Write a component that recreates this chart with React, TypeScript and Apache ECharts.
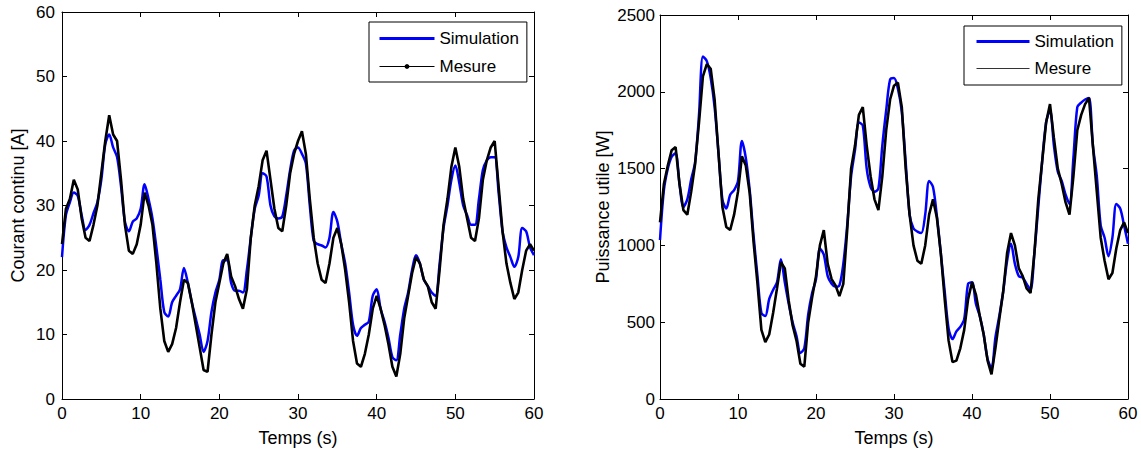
import React, { useEffect, useRef } from "react";
import * as echarts from "echarts";

const FONT = "'Liberation Sans', Arial, Helvetica, sans-serif";

// Time stamps (s)
const TIME = [
  0, 0.5, 1, 1.5, 2, 2.5, 3, 3.5, 4, 4.5, 5, 5.5, 6, 6.5, 7, 7.5, 8, 8.5, 9, 9.5,
  10, 10.5, 11, 11.5, 12, 12.5, 13, 13.5, 14, 14.5, 15, 15.5, 16, 16.5, 17, 17.5, 18, 18.5, 19, 19.5,
  20, 20.5, 21, 21.5, 22, 22.5, 23, 23.5, 24, 24.5, 25, 25.5, 26, 26.5, 27, 27.5, 28, 28.5, 29, 29.5,
  30, 30.5, 31, 31.5, 32, 32.5, 33, 33.5, 34, 34.5, 35, 35.5, 36, 36.5, 37, 37.5, 38, 38.5, 39, 39.5,
  40, 40.5, 41, 41.5, 42, 42.5, 43, 43.5, 44, 44.5, 45, 45.5, 46, 46.5, 47, 47.5, 48, 48.5, 49, 49.5,
  50, 50.5, 51, 51.5, 52, 52.5, 53, 53.5, 54, 54.5, 55, 55.5, 56, 56.5, 57, 57.5, 58, 58.5, 59, 59.5,
  60,
];

// Courant continu [A] — simulation
const SIM_CURRENT = [
  22, 28.5, 30.5, 32, 31.5, 28.5, 26.2, 27, 28.8, 30.5,
  34, 39.5, 41, 39, 37.5, 33, 27.5, 26, 27.5, 28,
  29.5, 33.3, 31, 28, 23.5, 18.5, 13.5, 12.8, 15, 16,
  17, 20.3, 18, 15, 12.5, 10, 7.3, 9, 13.5, 16.5,
  18.5, 21.5, 21.5, 18, 16.8, 16.8, 16.5, 20, 25, 29.5,
  31.5, 35, 34.5, 30, 28.3, 28, 28.3, 31.5, 35.5, 38.5,
  39, 38, 36.5, 30, 24.5, 24, 23.8, 23.5, 25, 29,
  27.5, 24, 21, 16.5, 11.5, 9.8, 11, 11.5, 12, 16,
  17, 14, 12, 9.5, 6.5, 6, 10, 14, 16.5, 20,
  22.3, 21, 18.5, 17.5, 16.5, 16, 21, 26.5, 30, 34,
  36.2, 33.5, 30, 28.5, 27, 27, 31, 35.5, 37, 37.5,
  37.5, 32, 26, 23.5, 22, 20.5, 22, 26.5, 26, 23.5,
  22.3,
];

// Courant continu [A] — mesure
const MES_CURRENT = [
  24, 29.5, 31, 34, 32.5, 28, 25, 24.5, 27, 30,
  35, 40, 44, 41, 40, 34, 27, 23, 22.5, 24,
  27, 32, 30, 27, 21, 14, 9, 7.3, 8.5, 11,
  15, 18.5, 18, 15, 11.5, 8, 4.5, 4.2, 10, 15,
  18, 21, 22.5, 19, 17.5, 15.5, 14, 17, 25, 30,
  33, 37, 38.5, 34, 29.5, 26.5, 26, 30, 35, 38,
  40, 41.5, 38, 31, 25, 21, 18.5, 18, 21, 25,
  26.5, 24, 20, 15, 9, 5.5, 5, 7, 10, 14,
  16, 14, 11.5, 8.5, 5, 3.5, 7, 12.5, 16, 19.5,
  22, 21, 18.5, 17.5, 15, 14, 20, 27, 31, 36,
  39, 36, 31, 28, 25, 24.5, 28, 34, 37, 39,
  40, 33, 26, 21, 18, 15.5, 16.5, 20, 23, 24,
  23,
];

// Puissance utile [W] — simulation
const SIM_POWER = [
  1035, 1360, 1500, 1578, 1600, 1400, 1250, 1300, 1430, 1540,
  1850, 2230, 2200, 2090, 1900, 1600, 1300, 1240, 1330, 1360,
  1420, 1680, 1570, 1360, 1060, 800, 560, 540, 650, 710,
  760, 910, 760, 620, 500, 410, 300, 330, 550, 690,
  780, 980, 940, 800, 750, 730, 740, 880, 1130, 1450,
  1620, 1800, 1780, 1500, 1380, 1350, 1370, 1650, 1880, 2080,
  2090, 2020, 1870, 1540, 1200, 1110, 1090, 1080, 1200, 1420,
  1380, 1190, 950, 700, 460, 390, 440, 470, 520, 750,
  760, 620, 540, 420, 260, 200, 400, 540, 700, 900,
  1010, 880, 800, 790, 750, 710, 950, 1250, 1550, 1800,
  1880, 1650, 1480, 1420, 1330, 1270, 1570, 1900, 1930, 1950,
  1960, 1650, 1450, 1130, 1050, 930, 1050, 1270, 1240, 1130,
  1010,
];

// Puissance utile [W] — mesure
const MES_POWER = [
  1150, 1400, 1520, 1620, 1640, 1400, 1230, 1200, 1350, 1530,
  1800, 2100, 2180, 2150, 1950, 1600, 1250, 1120, 1100, 1200,
  1350, 1580, 1520, 1340, 1020, 750, 450, 370, 420, 560,
  720, 890, 850, 640, 480, 380, 230, 210, 500, 660,
  800, 1000, 1100, 880, 780, 740, 670, 750, 1100, 1500,
  1650, 1850, 1900, 1650, 1450, 1300, 1230, 1450, 1750, 1950,
  2040, 2060, 1900, 1500, 1200, 1000, 900, 880, 1000, 1200,
  1300, 1180, 950, 650, 380, 240, 250, 330, 450, 650,
  760, 680, 540, 420, 250, 160, 330, 520, 700, 950,
  1080, 1000, 850, 800, 720, 690, 950, 1300, 1550, 1800,
  1920, 1700, 1500, 1400, 1280, 1200, 1450, 1750, 1850, 1920,
  1960, 1650, 1350, 1050, 900, 780, 820, 980, 1100, 1150,
  1080,
];

const X_MIN = 0;
const X_MAX = 60;
const X_STEP = 10;
const I_MAX = 60;
const I_STEP = 10;
const P_MAX = 2500;
const P_STEP = 500;

const SIM_NAME = "Simulation";
const MES_NAME = "Mesure";
const SIM_NAME_P = "Simulation_P";
const MES_NAME_P = "Mesure_P";

const pair = (vals: number[]) => vals.map((v, i) => [TIME[i], v]);

const BLUE = "#0000ff";
const BLACK = "#000000";

const plainLabel = (margin: number) => ({
  color: BLACK,
  fontSize: 17,
  fontFamily: FONT,
  margin,
  formatter: (v: number) => String(v),
});

function mainAxis(extra: any) {
  return {
    type: "value",
    axisLine: { show: true, onZero: false, lineStyle: { color: BLACK, width: 1 } },
    axisTick: { show: true, inside: true, length: 5, lineStyle: { color: BLACK } },
    splitLine: { show: false },
    nameTextStyle: { color: BLACK, fontSize: 18, fontFamily: FONT },
    ...extra,
  };
}

function mirrorAxis(extra: any) {
  return {
    type: "value",
    axisLine: { show: true, onZero: false, lineStyle: { color: BLACK, width: 1 } },
    axisTick: { show: true, inside: true, length: 5, lineStyle: { color: BLACK } },
    axisLabel: { show: false },
    splitLine: { show: false },
    ...extra,
  };
}

export default function App() {
  const ref = useRef<HTMLDivElement>(null);

  useEffect(() => {
    if (!ref.current) return;
    const chart = echarts.init(ref.current, null, { renderer: "svg" });

    const legendCommon = {
      orient: "vertical",
      borderColor: BLACK,
      borderWidth: 1,
      backgroundColor: "#ffffff",
      itemHeight: 6,
      selectedMode: false,
      textStyle: { color: BLACK, fontSize: 17, fontFamily: FONT, lineHeight: 17 },
    };

    const option: any = {
      animation: false,
      backgroundColor: "#ffffff",
      grid: [
        { left: 62, top: 12, width: 472, height: 387, containLabel: false },
        { left: 660, top: 15, width: 468, height: 384, containLabel: false },
      ],
      xAxis: [
        mainAxis({
          gridIndex: 0, position: "bottom", min: X_MIN, max: X_MAX, interval: X_STEP,
          name: "Temps (s)", nameLocation: "middle", nameGap: 30,
          axisLabel: plainLabel(6),
        }),
        mirrorAxis({ gridIndex: 0, position: "top", min: X_MIN, max: X_MAX, interval: X_STEP }),
        mainAxis({
          gridIndex: 1, position: "bottom", min: X_MIN, max: X_MAX, interval: X_STEP,
          name: "Temps (s)", nameLocation: "middle", nameGap: 30,
          axisLabel: plainLabel(6),
        }),
        mirrorAxis({ gridIndex: 1, position: "top", min: X_MIN, max: X_MAX, interval: X_STEP }),
      ],
      yAxis: [
        mainAxis({
          gridIndex: 0, position: "left", min: 0, max: I_MAX, interval: I_STEP,
          name: "Courant continu [A]", nameLocation: "middle", nameGap: 35, nameRotate: 90,
          axisLabel: plainLabel(7),
        }),
        mirrorAxis({ gridIndex: 0, position: "right", min: 0, max: I_MAX, interval: I_STEP }),
        mainAxis({
          gridIndex: 1, position: "left", min: 0, max: P_MAX, interval: P_STEP,
          name: "Puissance utile [W]", nameLocation: "middle", nameGap: 48, nameRotate: 90,
          axisLabel: plainLabel(5),
        }),
        mirrorAxis({ gridIndex: 1, position: "right", min: 0, max: P_MAX, interval: P_STEP }),
      ],
      legend: [
        {
          ...legendCommon,
          left: 369,
          top: 22,
          itemWidth: 55,
          padding: [8, 8, 7, 9],
          itemGap: 11,
          data: [
            { name: SIM_NAME, lineStyle: { width: 3, color: BLUE }, itemStyle: { opacity: 0 } },
            { name: MES_NAME, lineStyle: { width: 1, color: BLACK }, itemStyle: { color: BLACK } },
          ],
        },
        {
          ...legendCommon,
          left: 964,
          top: 26,
          itemWidth: 53,
          padding: [7, 8, 8, 11],
          itemGap: 10,
          formatter: (n: string) => n.replace("_P", ""),
          data: [
            { name: SIM_NAME_P, lineStyle: { width: 3, color: BLUE }, itemStyle: { opacity: 0 } },
            { name: MES_NAME_P, lineStyle: { width: 1, color: "#333333" }, itemStyle: { opacity: 0 } },
          ],
        },
      ],
      series: [
        {
          name: SIM_NAME, type: "line", xAxisIndex: 0, yAxisIndex: 0,
          data: pair(SIM_CURRENT), symbol: "none", showSymbol: false, smooth: 0.3,
          lineStyle: { color: BLUE, width: 2.5 }, itemStyle: { color: BLUE }, z: 2,
        },
        {
          name: MES_NAME, type: "line", xAxisIndex: 0, yAxisIndex: 0,
          data: pair(MES_CURRENT), symbol: "circle", symbolSize: 4, showSymbol: false,
          lineStyle: { color: BLACK, width: 2.6, join: "bevel" }, itemStyle: { color: BLACK }, z: 3,
        },
        {
          name: SIM_NAME_P, type: "line", xAxisIndex: 2, yAxisIndex: 2,
          data: pair(SIM_POWER), symbol: "none", showSymbol: false, smooth: 0.3,
          lineStyle: { color: BLUE, width: 2.5 }, itemStyle: { color: BLUE }, z: 2,
        },
        {
          name: MES_NAME_P, type: "line", xAxisIndex: 2, yAxisIndex: 2,
          data: pair(MES_POWER), symbol: "none", showSymbol: false,
          lineStyle: { color: BLACK, width: 2.6, join: "bevel" }, itemStyle: { color: BLACK }, z: 3,
        },
      ],
    };

    chart.setOption(option);
    return () => chart.dispose();
  }, []);

  return (
    <div
      ref={ref}
      style={{ position: "absolute", left: 0, top: 0, width: 1141, height: 454, background: "#fff" }}
    />
  );
}
